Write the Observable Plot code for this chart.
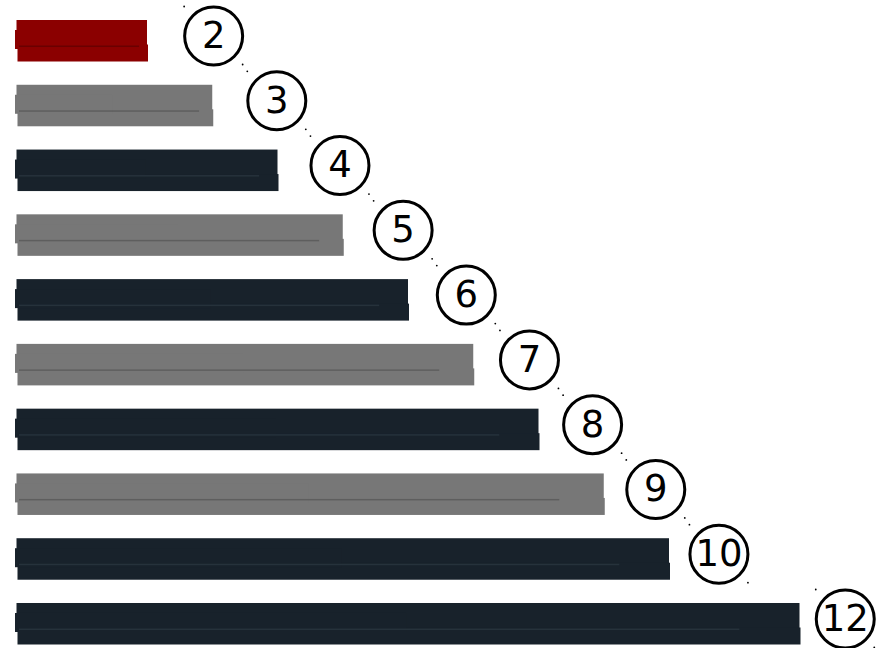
<!DOCTYPE html>
<html>
<head>
<meta charset="utf-8">
<script src="https://cdn.jsdelivr.net/npm/d3@7"></script>
<script src="https://cdn.jsdelivr.net/npm/@observablehq/plot@0.6"></script>
<style>
  html, body { margin: 0; padding: 0; background: #fff; }
  #chart svg { display: block; }
</style>
</head>
<body>
<div id="chart"></div>
<script>
// Data
const labels = ["2", "3", "4", "5", "6", "7", "8", "9", "10", "12"];
const values = [2, 3, 4, 5, 6, 7, 8, 9, 10, 12];
const groups = ["highlight", "odd", "even", "odd", "even", "odd", "even", "odd", "even", "even"];

const fillColors = {highlight: "#8b0000", odd: "#777777", even: "#18222b"};
const seamColors = {highlight: "#6a0000", odd: "#5e5e5e", even: "#26323b"};

const data = labels.map((label, i) => ({label, value: values[i], group: groups[i]}));

// badge placement along the diagonal (in x-scale units)
const badgeX = d => 1.07 + 0.968 * d.value;

const chart = Plot.plot({
  width: 884,
  height: 648,
  marginTop: 0,
  marginBottom: 0,
  marginLeft: 17,
  marginRight: 84,
  x: {domain: [0, 12], axis: null},
  y: {domain: labels, range: [20, 644], paddingInner: 0.367, paddingOuter: 0, round: false, axis: null},
  marks: [
    // sketchy bar: upper layer
    Plot.barX(data, {
      x: "value", y: "label",
      fill: d => fillColors[d.group],
      insetBottom: 14, dx: -0.5
    }),
    // sketchy bar: lower layer
    Plot.barX(data, {
      x: "value", y: "label",
      fill: d => fillColors[d.group],
      insetTop: 24, dx: 0.5, dy: 0.5
    }),
    // left jagged edge
    Plot.barX(data, {
      x: d => d.value * 0.5, y: "label",
      fill: d => fillColors[d.group],
      insetTop: 10, insetBottom: 12, dx: -2
    }),
    // seam line
    Plot.barX(data, {
      x: d => d.value * 0.92, y: "label",
      fill: d => seamColors[d.group],
      insetTop: 25.5, insetBottom: 14, dx: 2
    }),
    // diagonal tick marks peeking out around badges
    Plot.dot(data, {
      x: badgeX, y: "label", r: 0.9, fill: "#000", stroke: null,
      dx: -29.5, dy: -34.5
    }),
    Plot.dot(data, {
      x: badgeX, y: "label", r: 0.9, fill: "#000", stroke: null,
      dx: 29, dy: 23.5
    }),
    // badges
    Plot.dot(data, {
      x: badgeX, y: "label", r: 29, fill: "#fff", stroke: "#000",
      strokeWidth: 3, dy: -5
    }),
    Plot.text(data, {
      x: badgeX, y: "label", text: "label",
      fontSize: 37, fill: "#000", dy: -5,
      fontFamily: "DejaVu Sans, sans-serif"
    })
  ]
});

document.getElementById("chart").append(chart);
</script>
</body>
</html>
